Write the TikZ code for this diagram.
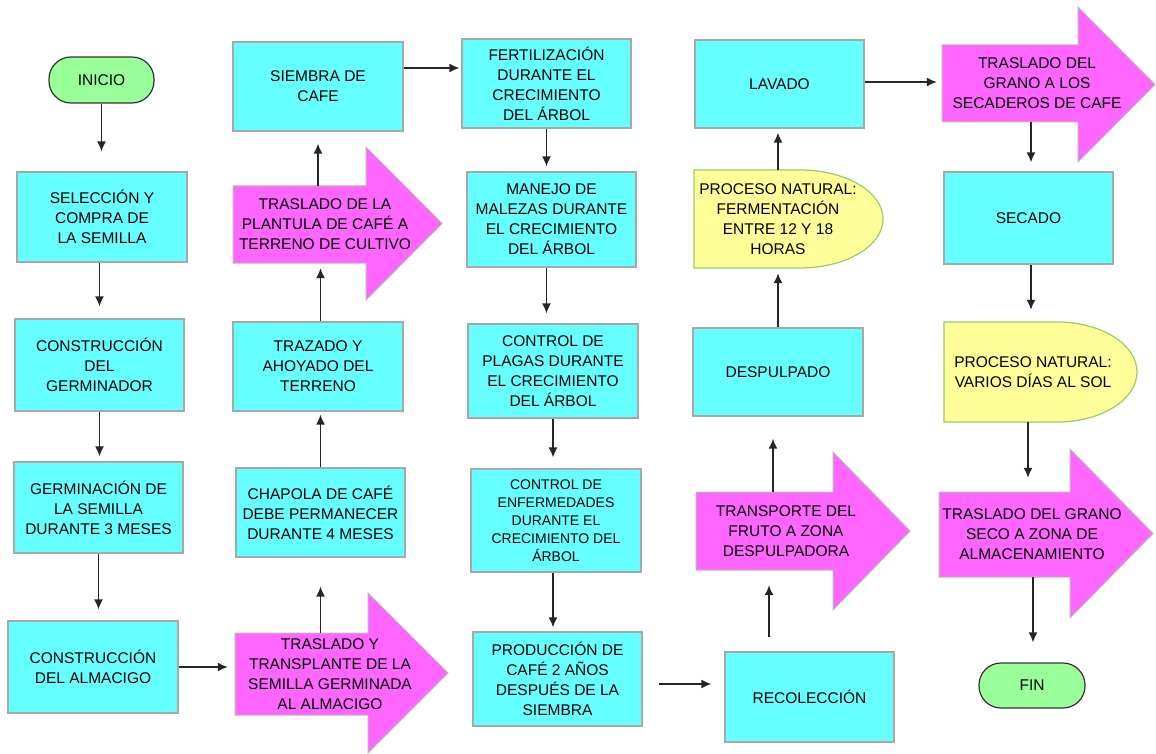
\documentclass[tikz,border=0pt]{standalone}
\usepackage{fontspec}
\setmainfont{Liberation Sans}
\usetikzlibrary{arrows.meta,backgrounds}

\definecolor{cian}{HTML}{66FFFF}
\definecolor{rosa}{HTML}{FF66FF}
\definecolor{amarillo}{HTML}{FFFF99}
\definecolor{verde}{HTML}{99FF99}
\definecolor{bordegris}{HTML}{A8A8A8}
\definecolor{bordeverde}{HTML}{99CC66}

\tikzset{caja/.style={draw=bordegris,line width=1.2pt,fill=cian,minimum width=169pt,minimum height=90pt,align=center,inner sep=0pt,font=\fontsize{15.5}{20}\selectfont}}
\tikzset{terminal/.style={draw=black!80,line width=1.2pt,fill=verde,rounded corners=22pt,minimum width=105pt,minimum height=46pt,inner sep=0pt,font=\fontsize{15.5}{20}\selectfont}}
\tikzset{rotulo/.style={align=center,inner sep=0pt,font=\fontsize{15.5}{20}\selectfont}}
\tikzset{flecharosa/.style={draw=bordegris!80,line width=1pt,fill=rosa}}
\tikzset{proceso/.style={draw=bordeverde,line width=1.2pt,fill=amarillo}}
\tikzset{flujo/.style={-{Latex[length=10pt,width=9pt]},line width=1.6pt,black!85}}

\begin{document}
\begin{tikzpicture}[x=1pt,y=-1pt]
        \useasboundingbox (0,0) rectangle (1156,754);
        % primera columna
        \node[terminal] (inicio) at (101.5,80) {INICIO};
        \node[caja,minimum width=170pt] (seleccion) at (102,217) {SELECCIÓN Y\\COMPRA DE\\LA SEMILLA};
        \node[caja,minimum height=92pt] (germinador) at (99.5,365) {CONSTRUCCIÓN\\DEL\\GERMINADOR};
        \node[caja,minimum height=91pt] (germinacion) at (98.5,507.5) {GERMINACIÓN DE\\LA SEMILLA\\DURANTE 3 MESES};
        \node[caja,minimum width=170pt,minimum height=92pt] (almacigo) at (93,667) {CONSTRUCCIÓN\\DEL ALMACIGO};
        % segunda columna
        \node[rotulo,minimum width=190pt,minimum height=82pt] (transplante) at (330,674) {TRASLADO Y\\TRANSPLANTE DE LA\\SEMILLA GERMINADA\\AL ALMACIGO};
        \node[caja,minimum height=89pt] (chapola) at (320.5,512.5) {CHAPOLA DE CAFÉ\\DEBE PERMANECER\\DURANTE 4 MESES};
        \node[caja,minimum width=170pt,minimum height=89pt] (trazado) at (318,366.5) {TRAZADO Y\\AHOYADO DEL\\TERRENO};
        \node[rotulo,minimum height=77pt] (plantula) at (325,224.5) {TRASLADO DE LA\\PLANTULA DE CAFÉ A\\TERRENO DE CULTIVO};
        \node[caja,minimum width=170pt,minimum height=89pt] (siembra) at (318,86.5) {SIEMBRA DE\\CAFE};
        % tercera columna
        \node[caja,minimum height=89pt] (fertilizacion) at (546.5,83.5) {FERTILIZACIÓN\\DURANTE EL\\CRECIMIENTO\\DEL ÁRBOL};
        \node[caja,minimum height=95pt] (malezas) at (551.5,219.5) {MANEJO DE\\MALEZAS DURANTE\\EL CRECIMIENTO\\DEL ÁRBOL};
        \node[caja,minimum width=170pt,minimum height=94pt] (plagas) at (553,371) {CONTROL DE\\PLAGAS DURANTE\\EL CRECIMIENTO\\DEL ÁRBOL};
        \node[caja,minimum width=170pt,minimum height=103pt,font=\fontsize{14}{18}\selectfont] (enfermedades) at (556,520.5) {CONTROL DE\\ENFERMEDADES\\DURANTE EL\\CRECIMIENTO DEL\\ÁRBOL};
        \node[caja,minimum height=94pt] (produccion) at (557.5,679) {PRODUCCIÓN DE\\CAFÉ 2 AÑOS\\DESPUÉS DE LA\\SIEMBRA};
        % cuarta columna
        \node[caja] (recoleccion) at (809.5,697) {RECOLECCIÓN};
        \node[rotulo,minimum height=78pt] (transporte) at (786,531) {TRANSPORTE DEL\\FRUTO A ZONA\\DESPULPADORA};
        \node[caja,minimum width=170pt,minimum height=88pt] (despulpado) at (778,372) {DESPULPADO};
        \node[rotulo,minimum width=168pt,minimum height=98pt] (fermentacion) at (778,219) {PROCESO NATURAL:\\FERMENTACIÓN\\ENTRE 12 Y 18\\HORAS};
        \node[caja,minimum height=88pt] (lavado) at (779.5,84) {LAVADO};
        % quinta columna
        \node[rotulo,minimum width=190pt,minimum height=77pt] (secaderos) at (1037,83.5) {TRASLADO DEL\\GRANO A LOS\\SECADEROS DE CAFE};
        \node[caja,minimum height=92pt] (secado) at (1028.5,218) {SECADO};
        \node[rotulo,minimum width=178pt,minimum height=100pt] (varios) at (1033,372) {PROCESO NATURAL:\\VARIOS DÍAS AL SOL};
        \node[rotulo,minimum height=85pt] (almacenamiento) at (1032,534.5) {TRASLADO DEL GRANO\\SECO A ZONA DE\\ALMACENAMIENTO};
        \node[terminal,minimum width=106pt,minimum height=45pt] (fin) at (1032,685.5) {FIN};

        \begin{scope}[on background layer]
        \fill[white] (0,0) rectangle (1156,754);
        \draw[flecharosa] (233,186) -- (366,186) -- (366,147) -- (442,223.5) -- (366,300) -- (366,263) -- (233,263) -- cycle;
        \draw[flecharosa] (235,633) -- (368,633) -- (368,593) -- (448,673) -- (368,753) -- (368,715) -- (235,715) -- cycle;
        \draw[flecharosa] (696,492) -- (833,492) -- (833,452) -- (910,531) -- (833,610) -- (833,570) -- (696,570) -- cycle;
        \draw[flecharosa] (942,45) -- (1078,45) -- (1078,7) -- (1155,84.5) -- (1078,162) -- (1078,122) -- (942,122) -- cycle;
        \draw[flecharosa] (939,492) -- (1070,492) -- (1070,449) -- (1153,533.5) -- (1070,618) -- (1070,577) -- (939,577) -- cycle;
        \draw[proceso] (694,170) -- (800,170) arc[start angle=90,end angle=-90,x radius=83pt,y radius=49pt] -- (694,268) -- cycle;
        \draw[proceso] (944,322) -- (1057,322) arc[start angle=90,end angle=-90,x radius=80pt,y radius=50pt] -- (944,422) -- cycle;
        \end{scope}

        \draw[flujo,shorten >=20pt] (inicio.south) -- (inicio.south |- seleccion.north);
        \draw[flujo,shorten >=12pt] (seleccion.south -| germinador) -- (germinador.north);
        \draw[flujo,shorten >=5pt] (germinador.south) -- (germinador.south |- germinacion.north);
        \draw[flujo,shorten >=11pt] (germinacion.south) -- (germinacion.south |- almacigo.north);
        \draw[flujo,shorten >=7pt] (almacigo.east) -- (almacigo.east -| transplante.west);
        \draw[flujo,shorten >=29pt] (transplante.north -| chapola) -- (chapola.south);
        \draw[flujo,shorten >=3pt] (chapola.north) -- (chapola.north |- trazado.south);
        \draw[flujo,shorten >=5pt] (trazado.north -| chapola) -- (chapola |- plantula.south);
        \draw[flujo,shorten >=12pt] (plantula.north -| siembra) -- (siembra.south);
        \draw[flujo,shorten >=2pt] (siembra.east |- 0,68) -- (fertilizacion.west |- 0,68);
        \draw[flujo,shorten >=5pt] (fertilizacion.south) -- (fertilizacion.south |- malezas.north);
        \draw[flujo,shorten >=10pt] (malezas.south -| fertilizacion) -- (fertilizacion |- plagas.north);
        \draw[flujo,shorten >=11pt] (plagas.south) -- (plagas.south |- enfermedades.north);
        \draw[flujo,shorten >=4pt] (enfermedades.south -| plagas) -- (plagas |- produccion.north);
        \draw[flujo,shorten <=16pt,shorten >=13pt] (produccion.east |- 0,684) -- (recoleccion.west |- 0,684);
        \draw[flujo,shorten <=14pt,shorten >=15pt] (recoleccion.north -| 769,0) -- (transporte.south -| 769,0);
        \draw[flujo,shorten >=22pt] (transporte.north -| 773,0) -- (despulpado.south -| 773,0);
        \draw[flujo,shorten >=5pt] (despulpado.north -| fermentacion) -- (fermentacion.south);
        \draw[flujo,shorten >=4pt] (fermentacion.north) -- (fermentacion.north |- lavado.south);
        \draw[flujo,shorten >=5pt] (lavado.east |- 0,82) -- (secaderos.west |- 0,82);
        \draw[flujo,shorten >=9pt] (secaderos.south -| 1031,0) -- (secado.north -| 1031,0);
        \draw[flujo,shorten >=12pt] (secado.south -| 1031,0) -- (varios.north -| 1031,0);
        \draw[flujo,shorten >=14pt] (varios.south -| 1028,0) -- (almacenamiento.north -| 1028,0);
        \draw[flujo,shorten >=20pt] (almacenamiento.south -| 1033,0) -- (fin.north -| 1033,0);
\end{tikzpicture}
\end{document}
